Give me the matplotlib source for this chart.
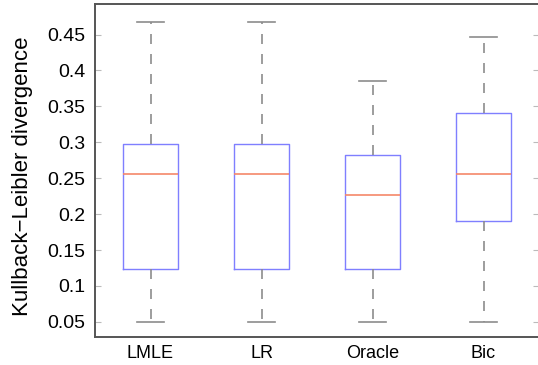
import matplotlib as mpl
mpl.use('Agg')
from matplotlib import pyplot as plt

# data
methods = ['LMLE', 'LR', 'Oracle', 'Bic']
whisker_low = [0.05, 0.05, 0.05, 0.05]
box_low = [0.124, 0.124, 0.124, 0.191]
medians = [0.256, 0.256, 0.227, 0.256]
box_high = [0.297, 0.297, 0.283, 0.341]
whisker_high = [0.468, 0.468, 0.386, 0.446]
yticks = [0.05, 0.1, 0.15, 0.2, 0.25, 0.3, 0.35, 0.4, 0.45]
ytick_labels = ['0.05', '0.1', '0.15', '0.2', '0.25', '0.3', '0.35', '0.4', '0.45']


def main():
    mpl.rcParams.update({'font.family': 'Liberation Sans', 'font.size': 12})

    fig = plt.figure(figsize=(5.38, 3.65), dpi=100)
    ax = fig.add_axes([95 / 538, 28 / 365, 444 / 538, 333 / 365])

    stats = []
    for i, name in enumerate(methods):
        stats.append({
            'label': name,
            'whislo': whisker_low[i],
            'q1': box_low[i],
            'med': medians[i],
            'q3': box_high[i],
            'whishi': whisker_high[i],
            'fliers': [],
        })

    ax.bxp(stats, positions=range(1, len(methods) + 1), widths=0.5,
           capwidths=0.25, showfliers=False,
           boxprops={'color': '#7f7fff', 'linewidth': 1.0},
           medianprops={'color': '#f5876a', 'linewidth': 1.2},
           whiskerprops={'color': '#8c8c8c', 'linestyle': (0, (6, 6)),
                         'linewidth': 1.2},
           capprops={'color': '#8c8c8c', 'linewidth': 1.2})

    ax.set_xlim(0.5, 4.5)
    ax.set_ylim(0.029, 0.4925)
    ax.set_yticks(yticks)
    ax.set_yticklabels(ytick_labels, fontsize=14)
    ax.set_xticks(range(1, len(methods) + 1))
    ax.set_xticklabels(methods, fontsize=13)
    ax.tick_params(axis='y', direction='in', length=4, color='#bbbbbb',
                   right=True, pad=7)
    ax.tick_params(axis='x', length=0, pad=6)
    for spine in ax.spines.values():
        spine.set_color('#555555')
        spine.set_linewidth(1.4)

    ax.set_ylabel('Kullback\u2212Leibler divergence', fontsize=16)
    ax.yaxis.set_label_coords(-62 / 444, 0.483)

    plt.savefig('out.png', dpi=100)


if __name__ == '__main__':
    main()
